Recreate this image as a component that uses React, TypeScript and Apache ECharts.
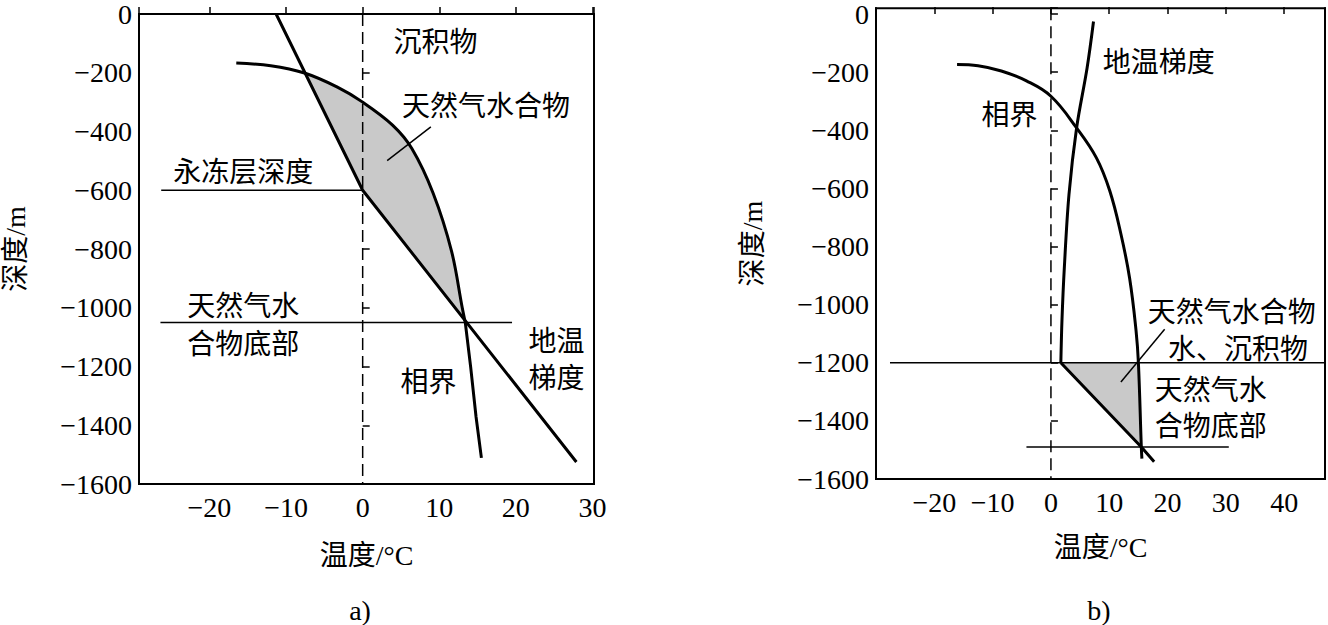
import React, { useEffect, useRef } from "react";
import * as echarts from "echarts";

// ---------- chart a) ----------
const gradientA = [[-11.3, 0], [0, -600], [27.9, -1525]];
const phaseUpperA = [[-16.5, -167], [-12, -176], [-7.6, -201], [-3.3, -249], [0, -300], [3.9, -378], [6.4, -457], [9.2, -610], [11.6, -807], [13.0, -1000], [13.4, -1051]];
const phaseLowerA = [[13.4, -1051], [14.1, -1202], [14.8, -1371], [15.5, -1511]];
const permafrostA = [[-26.3, -600], [0, -600]];
const hydrateBaseA = [[-26.4, -1050], [19.5, -1050]];
const zeroLineA = [[0, 0], [0, -1600]];
const leaderA = [[8.9, -384], [3.2, -499]];
const labelTextA = ["沉积物", "天然气水合物", "永冻层深度", "天然气水", "合物底部", "地温", "梯度", "相界"];
const labelPosA = [[9.5, -88], [16.1, -308], [-15.6, -530], [-15.6, -986], [-15.6, -1118], [25.3, -1108], [25.3, -1231], [8.6, -1247]];

// ---------- chart b) ----------
const gradientUpperB = [[7.3, -26], [6.2, -186], [4.4, -392], [3.1, -620], [2.3, -872], [1.9, -1050], [1.7, -1200]];
const gradientLowerB = [[1.7, -1200], [15.5, -1490], [17.7, -1541]];
const phaseB = [[-16.1, -174], [-12.5, -178], [-8.5, -196], [-4.2, -230], [0, -283], [4.4, -392], [7.8, -495], [10.1, -609], [12.0, -757], [13.5, -910], [14.6, -1090], [15.0, -1200], [15.5, -1490], [15.6, -1530]];
const hydrateTopB = [[-27.6, -1200], [47, -1200]];
const hydrateBaseB = [[-4.2, -1490], [30.5, -1490]];
const zeroLineB = [[0, 20], [0, -1600]];
const leaderB = [[12.0, -1266], [19.5, -1085]];
const labelTextB = ["地温梯度", "相界", "天然气水合物", "水、沉积物", "天然气水", "合物底部"];
const labelPosB = [[18.5, -157], [-7.1, -340], [31.0, -1017], [32.1, -1146], [27.4, -1286], [27.4, -1411]];

// axis extents
const xRangeA = [-29.2, 30.2];
const xRangeB = [-30, 47];
const yRangeA = [-1600, 0];
const yRangeB = [-1600, 20];

// shaded hydrate zones built from the curves
const hydrateAreaA = [...phaseUpperA.filter((p) => p[1] <= -200), gradientA[1]];
const hydrateAreaB = [gradientLowerB[0], ...phaseB.filter((p) => p[1] <= -1200 && p[1] >= -1490)];

const SERIF = "'Liberation Serif', 'Noto Sans CJK SC', serif";
const CJK = "'Noto Sans CJK SC', sans-serif";

const fmtNum = (v: number) => (v < 0 ? "\u2212" + Math.abs(v) : String(v));

function lineSeries(data: number[][], idx: number, width: number, extra: any = {}) {
  return {
    type: "line",
    xAxisIndex: idx,
    yAxisIndex: idx,
    data,
    symbol: "none",
    silent: true,
    z: 3,
    lineStyle: { color: "#000", width },
    ...extra,
  };
}

function areaSeries(points: number[][], idx: number) {
  return {
    type: "custom",
    xAxisIndex: idx,
    yAxisIndex: idx,
    silent: true,
    z: 1,
    data: [points[0]],
    renderItem: (_p: any, api: any) => ({
      type: "polygon",
      shape: { points: points.map((pt) => api.coord(pt)) },
      style: { fill: "#c9c9c9", stroke: "none" },
    }),
  };
}

function textSeries(pos: number[][], texts: string[], idx: number) {
  return {
    type: "custom",
    xAxisIndex: idx,
    yAxisIndex: idx,
    silent: true,
    z: 4,
    data: pos,
    renderItem: (p: any, api: any) => {
      const c = api.coord([api.value(0), api.value(1)]);
      return {
        type: "text",
        x: c[0],
        y: c[1],
        style: {
          text: texts[p.dataIndex],
          fontSize: 28,
          lineHeight: 30,
          fontFamily: CJK,
          fill: "#000",
          align: "center",
          verticalAlign: "middle",
        },
      };
    },
  };
}

function xAxisCfg(idx: number, range: number[], interval: number | undefined, nameGap: number) {
  return {
    gridIndex: idx,
    type: "value",
    min: range[0],
    max: range[1],
    ...(interval ? { interval } : {}),
    splitLine: { show: false },
    axisLine: { show: false },
    axisTick: { inside: true, length: 7, lineStyle: { color: "#000", width: 1.5 } },
    axisLabel: {
      color: "#000",
      fontSize: 28,
      fontFamily: SERIF,
      margin: 9,
      formatter: (v: number) =>
        Math.abs(v % 10) > 1e-6 || v <= range[0] || v >= range[1] ? "" : fmtNum(v),
    },
    name: "温度/°C",
    nameLocation: "middle",
    nameGap,
    nameTextStyle: { color: "#000", fontSize: 28, fontFamily: SERIF },
  };
}

function yAxisCfg(idx: number, range: number[], nameGap: number) {
  return {
    gridIndex: idx,
    type: "value",
    min: range[0],
    max: range[1],
    interval: 200,
    splitLine: { show: false },
    axisLine: { show: false },
    axisTick: { inside: true, length: 7, lineStyle: { color: "#000", width: 1.5 } },
    axisLabel: {
      color: "#000",
      fontSize: 28,
      fontFamily: SERIF,
      margin: 7,
      formatter: (v: number) => (Math.abs(v % 200) > 1e-6 ? "" : fmtNum(v)),
    },
    name: "深度/m",
    nameLocation: "middle",
    nameRotate: 90,
    nameGap,
    nameTextStyle: { color: "#000", fontSize: 28, fontFamily: SERIF },
  };
}

export default function App() {
  const ref = useRef<HTMLDivElement>(null);
  useEffect(() => {
    document.body.style.margin = "0";
    if (!ref.current) return;
    const chart = echarts.init(ref.current, null, { renderer: "svg" });
    const gridBase = { show: true, borderColor: "#000", borderWidth: 2, backgroundColor: "transparent" };
    chart.setOption({
      animation: false,
      backgroundColor: "#fff",
      grid: [
        { ...gridBase, left: 139, right: 734, top: 11.5, bottom: 141 },
        { ...gridBase, left: 876, right: 2, top: 6, bottom: 146 },
      ],
      xAxis: [xAxisCfg(0, xRangeA, undefined, 57), xAxisCfg(1, xRangeB, 10, 54)],
      yAxis: [yAxisCfg(0, yRangeA, 110), yAxisCfg(1, yRangeB, 110)],
      graphic: [
        { type: "text", x: 360, y: 610, style: { text: "a)", fontSize: 28, fontFamily: SERIF, fill: "#000", align: "center", verticalAlign: "middle" } },
        { type: "text", x: 1099, y: 610, style: { text: "b)", fontSize: 28, fontFamily: SERIF, fill: "#000", align: "center", verticalAlign: "middle" } },
      ],
      series: [
        areaSeries(hydrateAreaA, 0),
        lineSeries(zeroLineA, 0, 1.5, { lineStyle: { color: "#000", width: 1.5, type: [12, 6] } }),
        lineSeries(permafrostA, 0, 1.5),
        lineSeries(hydrateBaseA, 0, 1.5),
        lineSeries(leaderA, 0, 1.5),
        lineSeries(gradientA, 0, 3),
        lineSeries(phaseUpperA, 0, 3, { smooth: 0.35 }),
        lineSeries(phaseLowerA, 0, 3),
        textSeries(labelPosA, labelTextA, 0),

        areaSeries(hydrateAreaB, 1),
        lineSeries(zeroLineB, 1, 1.5, { lineStyle: { color: "#000", width: 1.5, type: [12, 6] } }),
        lineSeries(hydrateTopB, 1, 1.5),
        lineSeries(hydrateBaseB, 1, 1.5),
        lineSeries(leaderB, 1, 1.5),
        lineSeries(gradientUpperB, 1, 3, { smooth: 0.35 }),
        lineSeries(gradientLowerB, 1, 3),
        lineSeries(phaseB, 1, 3, { smooth: 0.4 }),
        textSeries(labelPosB, labelTextB, 1),
      ],
    });
    return () => chart.dispose();
  }, []);
  return <div ref={ref} style={{ width: 1328, height: 625 }} />;
}
